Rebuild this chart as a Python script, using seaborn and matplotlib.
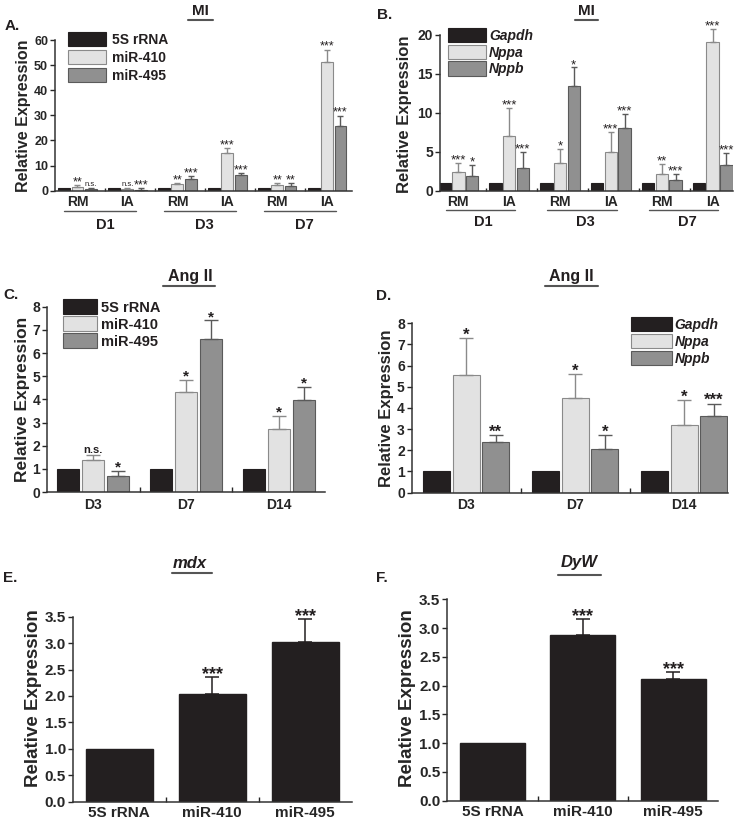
import matplotlib
matplotlib.use('Agg')
import matplotlib.pyplot as plt
import matplotlib.transforms as mtransforms
from matplotlib.lines import Line2D
import seaborn as sns
import numpy as np
import pandas as pd

W, H = 745, 827

# ---------------- data ----------------
mi_days = ['D1', 'D3', 'D7']
mi_sites = ['RM', 'IA']
mi_conds = [f'{d} {s}' for d in mi_days for s in mi_sites]

mir_genes = ['5S rRNA', 'miR-410', 'miR-495']
nat_genes = ['Gapdh', 'Nppa', 'Nppb']

# A: MI, miRNAs
a_5s = [1, 1, 1, 1, 1, 1]
a_410 = [1.5, 0.8, 2.8, 15.2, 2.3, 51.3]
a_410_err = [0.6, 0.3, 0.4, 1.7, 0.9, 4.9]
a_495 = [0.8, 0.4, 4.7, 6.3, 1.9, 25.8]
a_495_err = [0.3, 0.8, 1.2, 0.6, 1.2, 4.1]
a_410_sig = ['**', 'n.s.', '**', '***', '**', '***']
a_495_sig = ['n.s.', '***', '***', '***', '**', '***']

# B: MI, natriuretic peptides
b_gapdh = [1, 1, 1, 1, 1, 1]
b_nppa = [2.35, 7.0, 3.55, 4.95, 2.1, 19.0]
b_nppa_err = [1.25, 3.55, 1.85, 2.55, 1.3, 1.7]
b_nppb = [1.9, 2.95, 13.45, 8.0, 1.37, 3.25]
b_nppb_err = [1.4, 2.05, 2.35, 1.8, 0.8, 1.55]
b_nppa_sig = ['***', '***', '*', '***', '**', '***']
b_nppb_sig = ['*', '***', '*', '***', '***', '***']

# C / D: Ang II
ang_days = ['D3', 'D7', 'D14']
c_5s = [1, 1, 1]
c_410 = [1.4, 4.33, 2.72]
c_410_err = [0.2, 0.52, 0.58]
c_495 = [0.69, 6.6, 3.97]
c_495_err = [0.23, 0.83, 0.58]
c_410_sig = ['n.s.', '*', '*']
c_495_sig = ['*', '*', '*']

d_gapdh = [1, 1, 1]
d_nppa = [5.56, 4.45, 3.18]
d_nppa_err = [1.75, 1.15, 1.2]
d_nppb = [2.37, 2.04, 3.62]
d_nppb_err = [0.33, 0.66, 0.58]
d_nppa_sig = ['*', '*', '*']
d_nppb_sig = ['**', '*', '***']

# E / F: mdx and DyW
e_vals = [1.0, 2.03, 3.03]
e_err = [0, 0.33, 0.42]
e_sig = ['', '***', '***']
f_vals = [1.0, 2.88, 2.11]
f_err = [0, 0.27, 0.13]
f_sig = ['', '***', '***']

BLACK = '#231f20'
FILLS = [BLACK, '#e2e2e2', '#909090']
EDGES = [BLACK, '#8a8a8a', '#5a5a5a']

sns.set_style('ticks')
plt.rcParams['font.family'] = ['Liberation Sans', 'DejaVu Sans']
plt.rcParams['font.weight'] = 'bold'
plt.rcParams['axes.labelweight'] = 'bold'
plt.rcParams['text.color'] = BLACK
plt.rcParams['axes.edgecolor'] = '#333333'
plt.rcParams['axes.linewidth'] = 1.1

fig = plt.figure(figsize=(W / 100, H / 100), dpi=100)


def axes_px(left, top, right, bottom):
    return fig.add_axes([left / W, 1 - bottom / H, (right - left) / W, (bottom - top) / H])


def star_offset(fs):
    return 2.5 - 0.3 * fs


def grouped_bars(ax, conds, genes, series, errs, sigs, width, gap, cap,
                 star_fs, ns_fs, star_weight):
    rows = []
    for g, vals in zip(genes, series):
        for c, v in zip(conds, vals):
            rows.append({'cond': c, 'gene': g, 'value': v})
    df = pd.DataFrame(rows)
    sns.barplot(data=df, x='cond', y='value', hue='gene', order=conds,
                hue_order=genes, palette=FILLS, saturation=1, errorbar=None,
                width=width, gap=gap, legend=False, ax=ax)
    bars = list(ax.containers)
    for cont, edge, err, sig in zip(bars, EDGES, errs, sigs):
        for bar, e, s in zip(cont, err, sig):
            bar.set_edgecolor(edge)
            bar.set_linewidth(0.8)
            x = bar.get_x() + bar.get_width() / 2
            y = bar.get_height()
            if e > 0:
                eb = ax.errorbar(x, y, yerr=[[0], [e]], fmt='none', ecolor=edge,
                                 elinewidth=1, capsize=cap, capthick=1)
                for art in eb.get_children():
                    art.set_clip_on(False)
            if s == 'n.s.':
                ax.annotate(s, (x, y + e), xytext=(0, 1.5), textcoords='offset points',
                            ha='center', va='baseline', fontsize=ns_fs,
                            fontweight=star_weight, annotation_clip=False)
            elif s:
                ax.annotate(s, (x, y + e), xytext=(0, star_offset(star_fs)),
                            textcoords='offset points', ha='center', va='baseline',
                            fontsize=star_fs, fontweight=star_weight,
                            annotation_clip=False)
    return bars


def single_bars(ax, labels, vals, err, sig, cap, star_fs):
    sns.barplot(x=labels, y=vals, color=BLACK, saturation=1, errorbar=None,
                width=0.72, ax=ax)
    for bar, e, s in zip(ax.containers[0], err, sig):
        bar.set_edgecolor(BLACK)
        x = bar.get_x() + bar.get_width() / 2
        y = bar.get_height()
        if e > 0:
            ax.errorbar(x, y, yerr=[[0], [e]], fmt='none', ecolor=BLACK,
                        elinewidth=1.1, capsize=cap, capthick=1.1)
        if s:
            ax.annotate(s, (x, y + e), xytext=(0, star_offset(star_fs)),
                        textcoords='offset points', ha='center', va='baseline',
                        fontsize=star_fs, fontweight='bold', annotation_clip=False)


def style_axes(ax, ylim, yticks, ytick_labels, xlim, xlabels, bounds,
               tick_fs, xtick_fs, ylabel_fs, label_xy, xpad, minor_len):
    sns.despine(ax=ax)
    ax.set_ylim(*ylim)
    ax.set_yticks(yticks)
    ax.set_yticklabels(ytick_labels)
    ax.set_xlim(*xlim)
    ax.set_xticks(range(len(xlabels)))
    ax.set_xticklabels(xlabels)
    ax.set_xticks(bounds, minor=True)
    ax.tick_params(axis='y', direction='out', length=3.8, width=1, labelsize=tick_fs, pad=1.2)
    ax.tick_params(axis='x', which='major', length=0, labelsize=xtick_fs, pad=xpad)
    ax.tick_params(axis='x', which='minor', direction='in', length=minor_len, width=1)
    ax.set_xlabel('')
    ax.set_ylabel('Relative Expression', fontsize=ylabel_fs, fontweight='bold')
    ax.yaxis.set_label_coords(*label_xy)


def day_groups(ax, days, line_off, text_off, half, line_y, text_y, fs):
    trans = mtransforms.blended_transform_factory(ax.transData, ax.transAxes)
    for i, d in enumerate(days):
        c = i * len(mi_sites)
        ax.plot([c + line_off - half, c + line_off + half], [line_y, line_y],
                transform=trans, clip_on=False, color='#555555', lw=1)
        ax.text(c + text_off, text_y, d, transform=trans, ha='center', va='center',
                fontsize=fs, fontweight='bold')


def title_px(text, x, y_base, x0, x1, y_line, fs, style='normal'):
    fig.text(x / W, 1 - y_base / H, text, ha='center', va='baseline', fontsize=fs,
             fontweight='bold', fontstyle=style)
    fig.add_artist(Line2D([x0 / W, x1 / W], [1 - y_line / H] * 2, color='#555555', lw=1.5))


def letter_px(text, x, y):
    fig.text(x / W, 1 - y / H, text, ha='left', va='center', fontsize=11, fontweight='bold')


def legend_px(ax, handles, labels, x, y, fs, hl, hh, ls, htp, style='normal'):
    ax.legend(handles=handles, labels=labels, loc='upper left',
              bbox_to_anchor=(x / W, 1 - y / H), bbox_transform=fig.transFigure,
              frameon=False, borderpad=0, borderaxespad=0, handlelength=hl,
              handleheight=hh, labelspacing=ls, handletextpad=htp,
              prop=dict(size=fs, weight='bold', style=style))


mi_labels = [s for d in mi_days for s in mi_sites]
mi_bounds = [i + 0.55 for i in range(len(mi_conds) - 1)]
ang_bounds = [i + 0.5 for i in range(len(ang_days) - 1)]

# ---- A ----
axA = axes_px(55, 40, 351.7, 190.7)
barsA = grouped_bars(axA, mi_conds, mir_genes, [a_5s, a_410, a_495],
                     [[0] * 6, a_410_err, a_495_err], [[''] * 6, a_410_sig, a_495_sig],
                     width=0.795, gap=0.1, cap=2.5, star_fs=9, ns_fs=5.5,
                     star_weight='normal')
style_axes(axA, (0, 60), range(0, 61, 10), [str(v) for v in range(0, 61, 10)],
           (-0.45, 5.49), mi_labels, mi_bounds, 9, 10, 11.5, (-0.08, 0.5), 3, 2.5)
day_groups(axA, mi_days, 0.46, 0.55, 0.72, -0.135, -0.228, 10.5)
legend_px(axA, barsA, mir_genes, 68, 32, 10, 2.73, 1.15, 0.25, 0.43)
title_px('MI', 200.7, 15, 188, 213, 20, 11)
letter_px('A.', 5, 26)

# ---- B ----
axB = axes_px(440, 34.7, 733, 190.7)
barsB = grouped_bars(axB, mi_conds, nat_genes, [b_gapdh, b_nppa, b_nppb],
                     [[0] * 6, b_nppa_err, b_nppb_err], [[''] * 6, b_nppa_sig, b_nppb_sig],
                     width=0.81, gap=0.09, cap=2.5, star_fs=9.5, ns_fs=5.5,
                     star_weight='normal')
style_axes(axB, (0, 20), range(0, 21, 5), [str(v) for v in range(0, 21, 5)],
           (-0.36, 5.4), mi_labels, mi_bounds, 10, 10, 12, (-0.095, 0.49), 3, 2.5)
day_groups(axB, mi_days, 0.43, 0.5, 0.68, -0.124, -0.199, 10.5)
legend_px(axB, barsB, nat_genes, 448, 28, 10, 2.75, 1.2, 0.14, 0.2, style='italic')
title_px('MI', 586, 15, 575, 598, 20, 11)
letter_px('B.', 377, 15)

# ---- C ----
axC = axes_px(47, 306.7, 325, 492)
barsC = grouped_bars(axC, ang_days, mir_genes, [c_5s, c_410, c_495],
                     [[0] * 3, c_410_err, c_495_err], [[''] * 3, c_410_sig, c_495_sig],
                     width=0.81, gap=0.11, cap=5, star_fs=11, ns_fs=8,
                     star_weight='bold')
style_axes(axC, (0, 8), range(0, 9), [str(v) for v in range(0, 9)],
           (-0.5, 2.5), ang_days, ang_bounds, 10, 10, 12.5, (-0.06, 0.5), 4, 3.5)
legend_px(axC, barsC, mir_genes, 63, 299, 10.5, 2.3, 1.24, 0.1, 0.33)
title_px('Ang II', 190, 281, 163, 215, 286, 11.5)
letter_px('C.', 3, 295)

# ---- D ----
axD = axes_px(411.7, 323.3, 728, 492.5)
barsD = grouped_bars(axD, ang_days, nat_genes, [d_gapdh, d_nppa, d_nppb],
                     [[0] * 3, d_nppa_err, d_nppb_err], [[''] * 3, d_nppa_sig, d_nppb_sig],
                     width=0.81, gap=0.085, cap=5, star_fs=12, ns_fs=8,
                     star_weight='bold')
style_axes(axD, (0, 8), range(0, 9), [str(v) for v in range(0, 9)],
           (-0.5, 2.4), ang_days, ang_bounds, 10, 10, 12, (-0.055, 0.5), 4, 3.5)
legend_px(axD, barsD, nat_genes, 631, 317, 10, 2.95, 1.2, 0.15, 0.2, style='italic')
title_px('Ang II', 571.7, 281, 545, 598, 286, 11.5)
letter_px('D.', 376, 296)

# ---- E ----
e_ticks = np.arange(0, 3.51, 0.5)
axE = axes_px(72.7, 616.7, 351.7, 801.7)
single_bars(axE, mir_genes, e_vals, e_err, e_sig, cap=5, star_fs=13)
style_axes(axE, (0, 3.5), e_ticks, [f'{v:.1f}' for v in e_ticks],
           (-0.5, 2.5), mir_genes, ang_bounds, 11, 11, 13.5, (-0.11, 0.56), 3, 3.5)
title_px('mdx', 190, 568, 172, 212, 572.5, 12, style='italic')
letter_px('E.', 3, 578)

# ---- F ----
axF = axes_px(447.3, 599.3, 718.3, 800.7)
single_bars(axF, mir_genes, f_vals, f_err, f_sig, cap=5, star_fs=13)
style_axes(axF, (0, 3.5), e_ticks, [f'{v:.1f}' for v in e_ticks],
           (-0.5, 2.5), mir_genes, ang_bounds, 11, 11, 13.5, (-0.115, 0.51), 3, 3.5)
title_px('DyW', 579, 567, 558, 601, 575, 12, style='italic')
letter_px('F.', 376, 578)

fig.savefig('out.png', dpi=100)
